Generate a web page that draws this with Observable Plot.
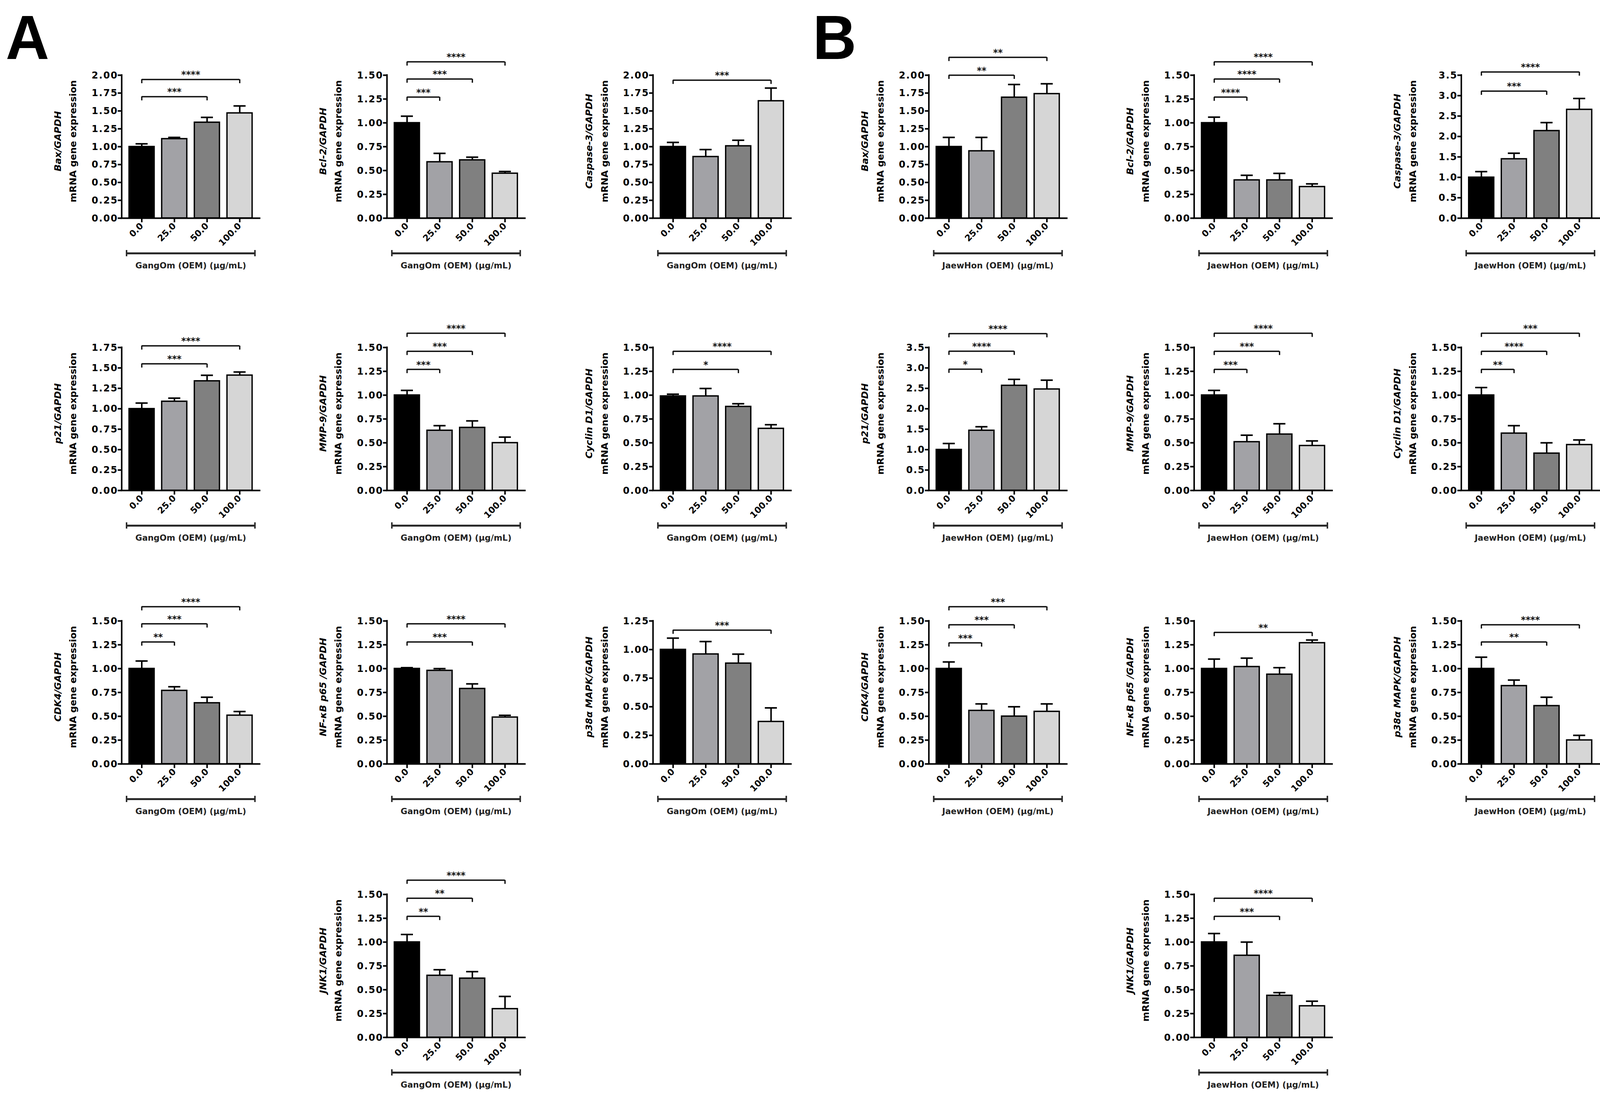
<!DOCTYPE html>
<html>
<head>
<meta charset="utf-8">
<script src="https://cdn.jsdelivr.net/npm/d3@7"></script>
<script src="https://cdn.jsdelivr.net/npm/@observablehq/plot@0.6"></script>
<style>
  html, body { margin: 0; padding: 0; background: #fff; overflow: hidden; }
  #fig { position: absolute; left: 0; top: 0; width: 4240px; height: 2808px; background: #fff; overflow: hidden;
         transform-origin: 0 0; }
  .chart { position: absolute; }
  .chart svg { max-width: none !important; display: block; }
  .panel { position: absolute; font-family: "Liberation Sans", Arial, sans-serif; font-weight: bold;
           font-size: 160px; line-height: 1.2; color: #000; }
  g[aria-label="y-axis tick label"] text { letter-spacing: 2px; }
  g[aria-label="stars"] text { letter-spacing: 3px; }
  g[aria-label="y-title"] text { letter-spacing: 1.5px; }
  g[aria-label="group-label"] text { letter-spacing: 0.5px; }
</style>
</head>
<body>
<div id="fig"></div>
<script>
// ---------------- data ----------------
const doses = ["0.0", "25.0", "50.0", "100.0"];
const barColors = ["#000000", "#a2a2a6", "#808080", "#d6d6d6"];
const panelLetters = ["A", "B"];
const groupLabels = ["GangOm (OEM) (μg/mL)", "JaewHon (OEM) (μg/mL)"];
const genes = ["Bax/GAPDH", "Bcl-2/GAPDH", "Caspase-3/GAPDH", "p21/GAPDH", "MMP-9/GAPDH",
               "Cyclin D1/GAPDH", "CDK4/GAPDH", "NF-κB p65 /GAPDH", "p38α MAPK/GAPDH", "JNK1/GAPDH"];
const yTitle2 = "mRNA gene expression";

// Panel A (GangOm)
const meanA = [
  [1.00, 1.11, 1.34, 1.47],
  [1.00, 0.59, 0.61, 0.47],
  [1.00, 0.86, 1.01, 1.64],
  [1.00, 1.09, 1.34, 1.41],
  [1.00, 0.63, 0.66, 0.50],
  [0.99, 0.99, 0.88, 0.65],
  [1.00, 0.77, 0.64, 0.51],
  [1.00, 0.98, 0.79, 0.49],
  [1.00, 0.96, 0.88, 0.37],
  [1.00, 0.65, 0.62, 0.30]
];
const errA = [
  [0.04, 0.02, 0.07, 0.10],
  [0.07, 0.09, 0.03, 0.02],
  [0.06, 0.10, 0.08, 0.18],
  [0.07, 0.04, 0.07, 0.04],
  [0.05, 0.05, 0.07, 0.06],
  [0.02, 0.08, 0.03, 0.04],
  [0.08, 0.04, 0.06, 0.04],
  [0.01, 0.02, 0.05, 0.02],
  [0.10, 0.11, 0.08, 0.12],
  [0.08, 0.06, 0.07, 0.13]
];
const yMaxA = [2.0, 1.5, 2.0, 1.75, 1.5, 1.5, 1.5, 1.5, 1.25, 1.5];
const yStepA = [0.25, 0.25, 0.25, 0.25, 0.25, 0.25, 0.25, 0.25, 0.25, 0.25];
// [index of compared dose, bracket level (y units), significance]
const bracketsA = [
  [[2, 1.70, "***"], [3, 1.94, "****"]],
  [[1, 1.27, "***"], [2, 1.46, "***"], [3, 1.64, "****"]],
  [[3, 1.93, "***"]],
  [[2, 1.55, "***"], [3, 1.77, "****"]],
  [[1, 1.27, "***"], [2, 1.46, "***"], [3, 1.65, "****"]],
  [[2, 1.27, "*"], [3, 1.46, "****"]],
  [[1, 1.28, "**"], [2, 1.47, "***"], [3, 1.65, "****"]],
  [[2, 1.28, "***"], [3, 1.47, "****"]],
  [[3, 1.17, "***"]],
  [[1, 1.27, "**"], [2, 1.46, "**"], [3, 1.65, "****"]]
];

// Panel B (JaewHon)
const meanB = [
  [1.00, 0.94, 1.69, 1.74],
  [1.00, 0.40, 0.40, 0.33],
  [1.00, 1.45, 2.14, 2.66],
  [1.00, 1.47, 2.57, 2.48],
  [1.00, 0.51, 0.59, 0.47],
  [1.00, 0.60, 0.39, 0.48],
  [1.00, 0.56, 0.50, 0.55],
  [1.00, 1.02, 0.94, 1.27],
  [1.00, 0.82, 0.61, 0.25],
  [1.00, 0.86, 0.44, 0.33]
];
const errB = [
  [0.13, 0.19, 0.18, 0.14],
  [0.06, 0.05, 0.07, 0.03],
  [0.14, 0.14, 0.20, 0.27],
  [0.15, 0.09, 0.15, 0.22],
  [0.05, 0.07, 0.11, 0.05],
  [0.08, 0.08, 0.11, 0.05],
  [0.07, 0.07, 0.10, 0.08],
  [0.10, 0.09, 0.07, 0.03],
  [0.12, 0.06, 0.09, 0.05],
  [0.09, 0.14, 0.03, 0.05]
];
const yMaxB = [2.0, 1.5, 3.5, 3.5, 1.5, 1.5, 1.5, 1.5, 1.5, 1.5];
const yStepB = [0.25, 0.25, 0.5, 0.5, 0.25, 0.25, 0.25, 0.25, 0.25, 0.25];
const bracketsB = [
  [[2, 2.00, "**"], [3, 2.25, "**"]],
  [[1, 1.27, "****"], [2, 1.46, "****"], [3, 1.64, "****"]],
  [[2, 3.11, "***"], [3, 3.58, "****"]],
  [[1, 2.97, "*"], [2, 3.41, "****"], [3, 3.84, "****"]],
  [[1, 1.27, "***"], [2, 1.46, "***"], [3, 1.65, "****"]],
  [[1, 1.27, "**"], [2, 1.46, "****"], [3, 1.65, "***"]],
  [[1, 1.27, "***"], [2, 1.46, "***"], [3, 1.65, "***"]],
  [[3, 1.38, "**"]],
  [[2, 1.28, "**"], [3, 1.46, "****"]],
  [[2, 1.27, "***"], [3, 1.46, "****"]]
];

// ---------------- layout ----------------
const FIG_W = 4240, FIG_H = 2808;
const IW = 366, IH = 366, ML = 240, MT = 120, MR = 4, MB = 150;
const PAD = 0.23;
const STEP = IW / (doses.length + PAD);
const BW = STEP * (1 - PAD);
const C0 = STEP * (1 + PAD) / 2;          // frame left edge -> centre of first band
const panelCols = [[322, 1025, 1730], [2461, 3164, 3872]];
const rowTops = [192, 889, 1589, 2289];
const slots = [[0,0],[0,1],[0,2],[1,0],[1,1],[1,2],[2,0],[2,1],[2,2],[3,1]];
const panelLetterPos = [[15, 0], [2154, 0]];
const FONT = "DejaVu Sans, sans-serif";

function chart(mean, err, yMax, yStep, brackets, gene, groupLabel) {
  const rows = doses.map((d, i) => ({dose: d, value: mean[i], top: mean[i] + err[i]}));
  const n = Math.round(yMax / yStep);
  const ticks = d3.range(n + 1).map(k => +(k * yStep).toFixed(4));
  const fmt = d3.format(yStep < 0.5 ? ".2f" : ".1f");
  const br = brackets.map(([to, level, label]) => ({from: doses[0], to: doses[to], k: to, level, label}));
  const ends = br.flatMap(b => [{x: b.from, level: b.level}, {x: b.to, level: b.level}]);
  const last = doses[doses.length - 1];
  const ink = "#000";
  const marks = [
    Plot.barY(rows, {x: "dose", y: "value", fill: "dose", stroke: ink, strokeWidth: 3.5}),
    Plot.ruleX(rows, {x: "dose", y1: "value", y2: "top", stroke: ink, strokeWidth: 4}),
    Plot.tickY(rows, {x: "dose", y: "top", stroke: ink, strokeWidth: 4, inset: (BW - 32) / 2}),
    // axis lines
    Plot.ruleY([0], {stroke: ink, strokeWidth: 4, strokeLinecap: "square"}),
    Plot.ruleX([doses[0]], {x: d => d, y1: 0, y2: yMax, dx: -C0, stroke: ink, strokeWidth: 4, strokeLinecap: "square"}),
    Plot.axisY({ticks, tickFormat: fmt, tickSize: 10, tickPadding: 0, fontSize: 25, fontWeight: "bold",
                color: ink, strokeWidth: 4, label: null}),
    Plot.axisX({tickRotate: -45, tickSize: 11, tickPadding: 5, fontSize: 23, fontWeight: "bold",
                color: ink, strokeWidth: 4, label: null}),
    // significance brackets
    Plot.ruleY(br, {x1: "from", x2: "to", y: "level", insetLeft: BW / 2, insetRight: BW / 2, stroke: "#111", strokeWidth: 3.5}),
    Plot.ruleX(ends, {x: "x", y1: "level", y2: "level", insetTop: 0, insetBottom: -10, stroke: "#111", strokeWidth: 3.5}),
    ...br.map(b => Plot.text([b], {x: "from", y: "level", text: "label", dx: b.k * STEP / 2, dy: -4,
                                   lineAnchor: "bottom", textAnchor: "middle", fontSize: 24, fontWeight: "bold",
                                   fill: "#111", ariaLabel: "stars"})),
    // grouping line under the dose labels
    Plot.ruleY([0], {y: d => d, x1: () => doses[0], x2: () => last, dy: 90, insetLeft: -7, insetRight: -7,
                     stroke: "#2a2a2a", strokeWidth: 5}),
    Plot.ruleX([0], {x: () => doses[0], y1: 0, y2: 0, dx: -(BW / 2 + 7), dy: 90, insetTop: -8, insetBottom: -8,
                     stroke: "#2a2a2a", strokeWidth: 4}),
    Plot.ruleX([0], {x: () => last, y1: 0, y2: 0, dx: BW / 2 + 7, dy: 90, insetTop: -8, insetBottom: -8,
                     stroke: "#2a2a2a", strokeWidth: 4}),
    Plot.text([groupLabel], {text: d => d, frameAnchor: "bottom", dy: 121, lineAnchor: "middle", textAnchor: "middle",
                             fontSize: 22, fontWeight: "bold", fill: "#222", ariaLabel: "group-label"}),
    // y titles
    Plot.text([gene], {text: d => d, frameAnchor: "left", rotate: -90, dx: -169, dy: -14, textAnchor: "middle",
                       lineAnchor: "middle", fontSize: 24, fontWeight: "bold", fontStyle: "italic", fill: "#000",
                       ariaLabel: "y-title"}),
    Plot.text([yTitle2], {text: d => d, frameAnchor: "left", rotate: -90, dx: -128, dy: -14, textAnchor: "middle",
                          lineAnchor: "middle", fontSize: 24, fontWeight: "bold", fill: "#000", ariaLabel: "y-title"})
  ];
  return Plot.plot({
    width: ML + IW + MR, height: MT + IH + MB,
    marginLeft: ML, marginRight: MR, marginTop: MT, marginBottom: MB,
    x: {domain: doses, padding: PAD, round: false},
    y: {domain: [0, yMax]},
    color: {domain: doses, range: barColors},
    style: {fontFamily: FONT, background: "transparent", overflow: "visible", color: "#000"},
    marks
  });
}

const fig = document.getElementById("fig");
const panels = [
  {mean: meanA, err: errA, yMax: yMaxA, yStep: yStepA, brackets: bracketsA},
  {mean: meanB, err: errB, yMax: yMaxB, yStep: yStepB, brackets: bracketsB}
];
panels.forEach((p, pi) => {
  genes.forEach((g, gi) => {
    const [r, c] = slots[gi];
    const el = chart(p.mean[gi], p.err[gi], p.yMax[gi], p.yStep[gi], p.brackets[gi], g, groupLabels[pi]);
    const wrap = document.createElement("div");
    wrap.className = "chart";
    wrap.style.left = (panelCols[pi][c] - ML) + "px";
    wrap.style.top = (rowTops[r] - MT) + "px";
    wrap.style.width = (ML + IW + MR) + "px";
    wrap.appendChild(el);
    fig.appendChild(wrap);
  });
});
panelLetters.forEach((t, i) => {
  const d = document.createElement("div");
  d.className = "panel";
  d.textContent = t;
  d.style.left = panelLetterPos[i][0] + "px";
  d.style.top = panelLetterPos[i][1] + "px";
  fig.appendChild(d);
});

// fit the 4240x2808 figure into whatever CSS viewport the page actually gets
function fit() {
  const vw = document.documentElement.clientWidth || window.innerWidth;
  const vh = document.documentElement.clientHeight || window.innerHeight;
  const sx = vw / FIG_W, sy = vh / FIG_H;
  fig.style.transform = (Math.abs(sx - 1) > 0.002 || Math.abs(sy - 1) > 0.002) ? `scale(${sx}, ${sy})` : "";
}
fit();
window.addEventListener("resize", fit);
</script>
</body>
</html>
